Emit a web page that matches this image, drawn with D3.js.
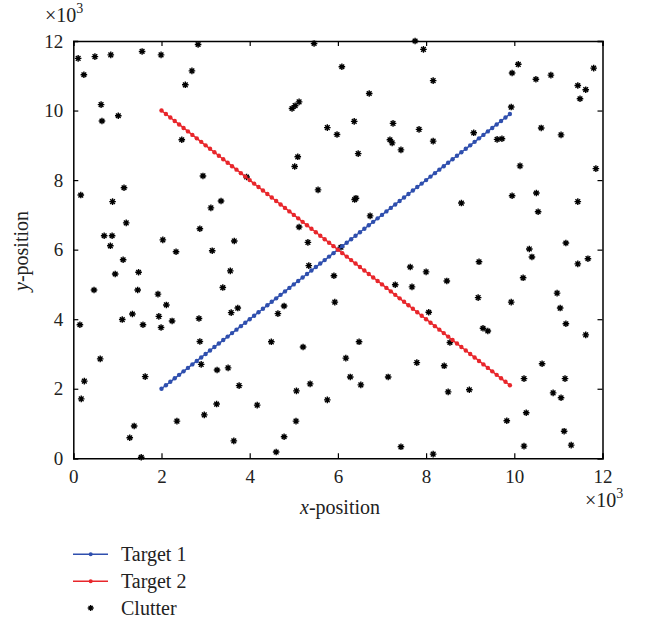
<!DOCTYPE html>
<html>
<head>
<meta charset="utf-8">
<script src="https://cdn.jsdelivr.net/npm/d3@7"></script>
<style>
  html, body { margin: 0; padding: 0; background: #fff; }
  svg { display: block; }
  text { font-family: "Liberation Serif", "DejaVu Serif", serif; fill: #222; }
</style>
</head>
<body>
<svg id="chart" width="649" height="620"></svg>
<script>
// ---- data (units: x10^3) ----
const xTicks = [0, 2, 4, 6, 8, 10, 12];
const yTicks = [0, 2, 4, 6, 8, 10, 12];

const targetX = [2.0,2.1,2.2,2.3,2.4,2.5,2.6,2.7,2.8,2.9,3.0,3.1,3.2,3.3,3.4,3.5,3.6,3.7,3.8,3.9,
  4.0,4.1,4.2,4.3,4.4,4.5,4.6,4.7,4.8,4.9,5.0,5.1,5.2,5.3,5.4,5.5,5.6,5.7,5.8,5.9,
  6.0,6.1,6.2,6.3,6.4,6.5,6.6,6.7,6.8,6.9,7.0,7.1,7.2,7.3,7.4,7.5,7.6,7.7,7.8,7.9,
  8.0,8.1,8.2,8.3,8.4,8.5,8.6,8.7,8.8,8.9,9.0,9.1,9.2,9.3,9.4,9.5,9.6,9.7,9.8,9.9];
const target1Y = [2.0,2.1,2.2,2.3,2.4,2.5,2.6,2.7,2.8,2.9,3.0,3.1,3.2,3.3,3.4,3.5,3.6,3.7,3.8,3.9,
  4.0,4.1,4.2,4.3,4.4,4.5,4.6,4.7,4.8,4.9,5.0,5.1,5.2,5.3,5.4,5.5,5.6,5.7,5.8,5.9,
  6.0,6.1,6.2,6.3,6.4,6.5,6.6,6.7,6.8,6.9,7.0,7.1,7.2,7.3,7.4,7.5,7.6,7.7,7.8,7.9,
  8.0,8.1,8.2,8.3,8.4,8.5,8.6,8.7,8.8,8.9,9.0,9.1,9.2,9.3,9.4,9.5,9.6,9.7,9.8,9.9];
const target2Y = [10.0,9.9,9.8,9.7,9.6,9.5,9.4,9.3,9.2,9.1,9.0,8.9,8.8,8.7,8.6,8.5,8.4,8.3,8.2,8.1,
  8.0,7.9,7.8,7.7,7.6,7.5,7.4,7.3,7.2,7.1,7.0,6.9,6.8,6.7,6.6,6.5,6.4,6.3,6.2,6.1,
  6.0,5.9,5.8,5.7,5.6,5.5,5.4,5.3,5.2,5.1,5.0,4.9,4.8,4.7,4.6,4.5,4.4,4.3,4.2,4.1,
  4.0,3.9,3.8,3.7,3.6,3.5,3.4,3.3,3.2,3.1,3.0,2.9,2.8,2.7,2.6,2.5,2.4,2.3,2.2,2.1];

const clutterX = [0.11,0.24,0.49,0.85,1.56,1.99,2.83,2.69,2.54,0.63,0.65,1.02,2.46,5.46,7.75,6.09,6.71,4.96,5.03,5.12,
  5.76,5.98,6.37,7.25,7.18,7.23,7.43,7.84,5.09,6.46,7.94,10.09,9.95,10.49,10.83,11.80,11.44,11.62,11.49,8.16,
  8.16,9.08,9.61,9.72,9.93,10.61,11.06,0.17,1.15,0.89,2.94,3.12,3.35,2.87,1.20,0.70,0.88,0.84,2.03,2.33,
  3.15,1.13,0.95,1.48,0.47,1.46,1.92,2.11,5.02,3.93,5.55,6.38,6.41,6.73,5.12,5.32,3.65,6.07,5.34,7.64,
  3.56,5.91,3.39,7.30,7.68,5.93,4.78,3.73,8.80,10.13,11.85,9.95,10.50,10.54,11.44,10.34,10.40,11.17,11.44,11.67,
  8.00,9.20,8.47,10.20,9.18,9.93,10.97,11.04,0.15,1.11,1.34,1.58,1.94,1.99,2.24,2.85,2.87,2.90,3.26,0.61,
  0.25,0.18,1.63,2.35,2.97,3.25,1.38,1.28,1.54,3.58,4.64,3.51,4.49,5.21,3.76,4.17,5.06,5.37,5.76,6.18,
  6.48,6.28,6.52,7.14,7.79,5.05,4.78,4.60,3.64,7.43,8.06,9.29,9.40,11.17,11.62,8.54,8.41,10.63,10.22,11.15,
  8.50,8.98,10.88,11.06,10.27,9.83,11.13,11.29,10.22,8.16];
const clutterY = [11.50,11.03,11.55,11.60,11.70,11.60,11.90,11.14,10.74,10.17,9.70,9.85,9.16,11.93,12.00,11.26,10.49,10.06,10.14,10.25,
  9.51,9.31,9.69,9.63,9.16,9.07,8.87,9.46,8.67,8.76,11.76,11.33,11.08,10.90,11.02,11.22,10.72,10.60,10.34,10.86,
  9.12,9.36,9.17,9.19,10.10,9.50,9.30,7.57,7.78,7.38,8.12,7.20,7.40,6.60,6.77,6.40,6.40,6.11,6.28,5.94,
  5.97,5.71,5.30,5.35,4.84,4.84,4.72,4.41,8.39,8.09,7.72,7.44,7.48,6.97,6.65,6.21,6.25,6.07,5.54,5.50,
  5.39,5.25,4.91,4.99,4.93,4.49,4.38,4.32,7.34,8.41,8.33,7.55,7.63,7.09,7.38,6.02,5.79,6.19,5.59,5.74,
  5.36,5.65,5.10,5.19,4.62,4.49,4.75,4.32,3.84,3.99,4.15,3.84,4.08,3.76,3.95,4.02,3.36,2.70,2.54,2.86,
  2.22,1.71,2.35,1.07,1.25,1.56,0.93,0.59,0.03,4.19,4.16,2.60,3.35,3.20,2.09,1.53,1.94,2.14,1.68,2.88,
  3.35,2.34,2.11,2.34,2.75,1.07,0.62,0.18,0.50,0.33,4.20,3.74,3.66,3.87,3.55,3.33,2.66,2.72,2.29,2.29,
  1.91,1.97,1.88,1.74,1.31,1.08,0.78,0.38,0.35,0.12];

const seriesNames = ["Target 1", "Target 2", "Clutter"];
const colors = { t1: "#2f4fae", t2: "#e8262b", clutter: "#000" };

// ---- layout ----
const svg = d3.select("#chart");
const mLeft = 73.3, mRight = 602.5, mTop = 41, mBottom = 458.3;
const x = d3.scaleLinear().domain([0, 12]).range([mLeft, mRight]);
const y = d3.scaleLinear().domain([0, 12]).range([mBottom, mTop]);
const tickFont = 19, labelFont = 20;

// axes (ticks inside)
const gx = svg.append("g").attr("transform", `translate(0,${mBottom})`)
  .call(d3.axisBottom(x).tickValues(xTicks).tickSize(-5).tickPadding(9).tickFormat(d3.format("d")));
const gxTop = svg.append("g").attr("transform", `translate(0,${mTop})`)
  .call(d3.axisTop(x).tickValues(xTicks).tickSize(-5).tickFormat(""));
const gy = svg.append("g").attr("transform", `translate(${mLeft},0)`)
  .call(d3.axisLeft(y).tickValues(yTicks).tickSize(-5).tickPadding(10).tickFormat(d3.format("d")));
const gyR = svg.append("g").attr("transform", `translate(${mRight},0)`)
  .call(d3.axisRight(y).tickValues(yTicks).tickSize(-5).tickFormat(""));

[gx, gxTop, gy, gyR].forEach(g => {
  g.select(".domain").attr("stroke", "#000").attr("stroke-width", 1.5);
  g.selectAll(".tick line").attr("stroke", "#000").attr("stroke-width", 1.2);
  g.selectAll(".tick text").attr("font-size", tickFont)
    .attr("font-family", "Liberation Serif, serif").attr("fill", "#222");
});
gx.selectAll(".tick text").attr("dy", "0.85em");

// exponent labels
function expLabel(px, py) {
  const t = svg.append("text").attr("x", px).attr("y", py).attr("font-size", 20);
  t.append("tspan").text("×10");
  t.append("tspan").attr("dy", -9).attr("font-size", 14).text("3");
}
expLabel(45, 22);
expLabel(585, 507);

// axis titles
const xl = svg.append("text").attr("x", 340).attr("y", 514).attr("text-anchor", "middle").attr("font-size", labelFont);
xl.append("tspan").attr("font-style", "italic").text("x");
xl.append("tspan").text("-position");
const yl = svg.append("text").attr("transform", "translate(28,251) rotate(-90)").attr("text-anchor", "middle").attr("font-size", labelFont);
yl.append("tspan").attr("font-style", "italic").text("y");
yl.append("tspan").text("-position");

// asterisk marker
function star(r) {
  const d = r * Math.SQRT1_2;
  return `M${-r},0L${r},0M0,${-r}L0,${r}M${-d},${-d}L${d},${d}M${-d},${d}L${d},${-d}`;
}

// clutter
const clutter = clutterX.map((v, i) => ({ x: v, y: clutterY[i] }));
svg.append("g").selectAll("path").data(clutter).join("path")
  .attr("transform", d => `translate(${x(d.x)},${y(d.y)})`)
  .attr("d", star(3.3)).attr("stroke", colors.clutter).attr("stroke-width", 1.4).attr("fill", "none");

// targets
function drawTarget(ys, color) {
  const pts = targetX.map((v, i) => ({ x: v, y: ys[i] }));
  const line = d3.line().x(d => x(d.x)).y(d => y(d.y));
  svg.append("path").datum(pts).attr("d", line).attr("fill", "none").attr("stroke", color).attr("stroke-width", 1.5);
  svg.append("g").selectAll("circle").data(pts).join("circle")
    .attr("cx", d => x(d.x)).attr("cy", d => y(d.y)).attr("r", 2.2).attr("fill", color);
}
drawTarget(target1Y, colors.t1);
drawTarget(target2Y, colors.t2);

// legend
const legY = [554.3, 581.3, 608];
const lg = svg.append("g");
[colors.t1, colors.t2].forEach((c, i) => {
  lg.append("line").attr("x1", 73).attr("x2", 108).attr("y1", legY[i]).attr("y2", legY[i])
    .attr("stroke", c).attr("stroke-width", 1.5);
  lg.append("circle").attr("cx", 90.7).attr("cy", legY[i]).attr("r", 2).attr("fill", c);
});
lg.append("path").attr("transform", `translate(90.7,${legY[2]})`).attr("d", star(3))
  .attr("stroke", "#000").attr("stroke-width", 1.3).attr("fill", "none");
seriesNames.forEach((n, i) => {
  lg.append("text").attr("x", 121).attr("y", legY[i] + 7).attr("font-size", labelFont).text(n);
});
</script>
</body>
</html>
